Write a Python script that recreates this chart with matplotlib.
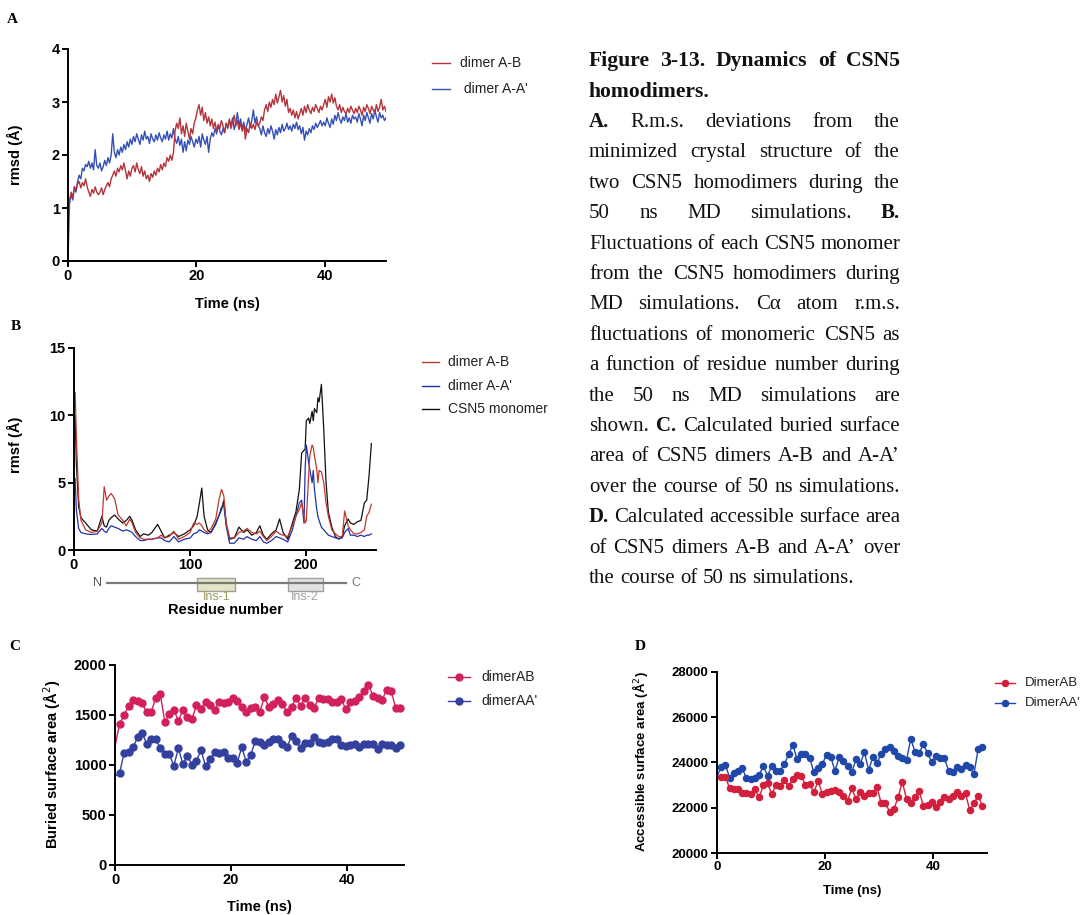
import numpy as np
import matplotlib
matplotlib.use('Agg')
import matplotlib.pyplot as plt
import matplotlib.transforms as mtransforms
from matplotlib.lines import Line2D
from matplotlib.patches import Rectangle

plt.rcParams['font.family'] = ['Liberation Sans', 'DejaVu Sans']

# ---- A: rmsd over time (ns), 0.25 ns sampling
rmsd_t = np.linspace(0, 49.5, 200)
rmsd_ab = [
    0.0, 1.15, 1.3, 1.2, 1.4, 1.35, 1.45, 1.5, 1.38, 1.48, 1.42, 1.55, 1.4, 1.3, 1.22, 1.35, 1.28, 1.4, 1.3, 1.25,
    1.3, 1.38, 1.25, 1.35, 1.42, 1.48, 1.4, 1.55, 1.62, 1.7, 1.6, 1.75, 1.68, 1.8, 1.72, 1.85, 1.7, 1.55, 1.7, 1.6,
    1.75, 1.8, 1.68, 1.85, 1.72, 1.65, 1.78, 1.6, 1.7, 1.55, 1.62, 1.5, 1.65, 1.58, 1.7, 1.62, 1.75, 1.68, 1.82, 1.72,
    1.85, 1.78, 1.95, 1.88, 2.0, 1.9, 2.05, 2.45, 2.6, 2.5, 2.7, 2.4, 2.55, 2.35, 2.6, 2.45, 2.3, 2.5, 2.4, 2.6,
    2.7, 2.85, 2.95, 2.75, 2.9, 2.65, 2.8, 2.6, 2.72, 2.55, 2.68, 2.5, 2.62, 2.45, 2.58, 2.5, 2.65, 2.55, 2.42, 2.6,
    2.52, 2.68, 2.5, 2.62, 2.75, 2.55, 2.65, 2.48, 2.6, 2.45, 2.58, 2.3, 2.5, 2.42, 2.6, 2.5, 2.58, 2.48, 2.62, 2.55,
    2.6, 2.72, 2.65, 2.85, 2.95, 2.82, 3.0, 2.9, 3.05, 2.95, 3.15, 2.98, 3.1, 3.22, 3.0, 3.12, 2.92, 3.05, 2.8, 2.88,
    2.75, 2.85, 2.7, 2.82, 2.68, 2.78, 2.88, 2.75, 2.92, 2.8, 2.95, 2.85, 2.78, 2.9, 2.82, 2.95, 2.88, 2.8, 2.92, 2.85,
    2.95, 3.05, 2.9, 3.1, 3.0, 3.15, 2.98, 3.08, 2.92, 2.85, 2.95, 2.8, 2.9, 2.82, 2.78, 2.88, 2.8, 2.92, 2.85, 2.78,
    2.88, 2.8, 2.92, 2.85, 2.75, 2.9, 2.82, 2.95, 2.88, 2.78, 2.92, 2.85, 2.8, 2.95, 2.82, 2.9, 3.05, 2.85, 2.92, 2.82,
]
rmsd_aa = [
    0.9, 1.1, 1.25, 1.15, 1.4, 1.3, 1.5, 1.62, 1.55, 1.75, 1.7, 1.82, 1.78, 1.88, 1.75, 1.85, 1.72, 2.1, 1.8, 1.75,
    1.85, 1.7, 1.78, 1.9, 1.8, 1.95, 1.85, 2.0, 2.4, 2.05, 1.95, 2.1, 2.0, 2.15, 2.05, 2.2, 2.1, 2.25, 2.15, 2.3,
    2.2, 2.35, 2.25, 2.4, 2.3, 2.2, 2.38, 2.28, 2.45, 2.3, 2.35, 2.22, 2.4, 2.3, 2.25, 2.38, 2.28, 2.42, 2.32, 2.25,
    2.38, 2.3, 2.45, 2.28, 2.4, 2.32, 2.5, 2.3, 2.22, 2.35, 2.18, 2.3, 2.05, 2.25, 2.08, 2.28, 2.2, 2.35, 2.25, 2.15,
    2.3, 2.22, 2.35, 2.15, 2.4, 2.28, 2.2, 2.35, 2.05, 2.3, 2.42, 2.35, 2.5, 2.4, 2.55, 2.45, 2.38, 2.5, 2.42, 2.6,
    2.5, 2.65, 2.55, 2.7, 2.48, 2.6, 2.8, 2.55, 2.68, 2.5, 2.62, 2.45, 2.58, 2.7, 2.52, 2.65, 2.85, 2.6, 2.72, 2.55,
    2.5, 2.38, 2.55, 2.42, 2.35, 2.5, 2.4, 2.55, 2.45, 2.3, 2.48, 2.38, 2.52, 2.42, 2.58, 2.45, 2.5, 2.6, 2.48, 2.55,
    2.45, 2.58, 2.5, 2.62, 2.48, 2.55, 2.4, 2.52, 2.28, 2.45, 2.38, 2.5, 2.42, 2.55, 2.48, 2.6, 2.52, 2.58, 2.65, 2.55,
    2.62, 2.55, 2.7, 2.6, 2.52, 2.68, 2.58, 2.75, 2.65, 2.8, 2.68, 2.6, 2.72, 2.65, 2.78, 2.62, 2.7, 2.6, 2.75, 2.68,
    2.72, 2.62, 2.78, 2.68, 2.55, 2.75, 2.65, 2.8, 2.7, 2.6, 2.78, 2.68, 2.85, 2.72, 2.62, 2.8, 2.7, 2.75, 2.65, 2.7,
]

# ---- B: rmsf per residue
rmsf_res = [1, 2, 4, 6, 10, 15, 20, 24, 26, 28,
            30, 32, 35, 38, 42, 45, 48, 50, 53, 57,
            60, 64, 67, 72, 75, 78, 82, 86, 90, 95,
            100, 103, 106, 108, 110, 112, 115, 118, 122, 125,
            127, 129, 131, 134, 138, 142, 146, 149, 153, 157,
            160, 163, 166, 170, 174, 177, 180, 184, 188, 191,
            194, 196, 198, 199, 200, 202, 203, 205, 206, 207,
            209, 210, 211, 213, 215, 217, 219, 222, 225, 228,
            231, 233, 236, 238, 241, 244, 247, 250, 252, 254,
            256]
rmsf_ab = [11.7, 8.5, 3.8, 2.2, 1.5, 1.3, 1.4, 2.0, 4.7, 3.7,
           4.0, 4.2, 3.8, 2.6, 2.2, 1.8, 2.3, 2.0, 1.3, 0.9,
           0.8, 0.8, 0.8, 0.9, 1.1, 0.9, 1.0, 1.4, 0.8, 1.0,
           1.3, 2.0, 1.9, 2.0, 1.8, 1.5, 1.3, 1.6, 2.3, 3.8,
           4.5, 4.0, 2.0, 0.9, 0.9, 1.3, 1.4, 1.6, 1.3, 1.2,
           1.4, 1.0, 0.7, 1.0, 1.4, 1.2, 1.1, 1.0, 1.8, 2.5,
           3.0, 3.5, 2.5, 2.0, 2.2, 5.5, 7.0, 7.8, 7.6, 7.0,
           6.0, 5.0, 5.9, 5.8, 5.0, 3.5, 2.5, 1.5, 1.2, 1.0,
           1.0, 2.9, 1.8, 1.5, 1.2, 1.2, 1.3, 1.5, 2.5, 2.8,
           3.4]
rmsf_aa = [5.3, 3.0, 1.6, 1.3, 1.2, 1.15, 1.2, 1.6, 1.4, 1.3,
           1.6, 1.8, 1.7, 1.6, 1.4, 1.5, 1.4, 1.3, 1.0, 0.7,
           0.7, 0.8, 0.8, 0.9, 0.9, 0.7, 0.6, 1.0, 0.6, 0.8,
           0.9, 1.2, 1.3, 1.5, 1.4, 1.3, 1.2, 1.3, 1.9, 2.6,
           3.2, 3.3, 1.8, 0.5, 0.5, 0.9, 0.8, 1.0, 0.8, 0.7,
           1.0, 0.6, 0.5, 0.7, 1.0, 0.9, 0.8, 0.6, 1.5, 2.5,
           3.5, 3.7, 2.0, 6.0, 7.8, 6.5, 6.0, 5.0, 5.9, 4.5,
           3.0, 2.5, 2.2, 1.7, 1.5, 1.3, 1.1, 1.0, 0.9, 0.85,
           0.9, 1.3, 1.6, 1.1, 1.1, 1.0, 1.1, 1.0, 1.1, 1.1,
           1.2]
rmsf_mono = [10.0, 6.5, 3.2, 2.4, 2.0, 1.5, 1.4, 2.5, 1.8, 1.7,
             2.2, 2.4, 2.6, 2.3, 2.0, 2.2, 2.5, 2.2, 1.5, 1.0,
             1.2, 1.1, 1.3, 1.9, 1.4, 0.9, 1.1, 1.3, 1.0, 1.2,
             1.5, 1.8, 2.5, 3.5, 4.6, 2.5, 1.5, 1.3, 2.0, 2.6,
             3.0, 3.7, 2.0, 0.8, 0.9, 1.7, 1.3, 1.5, 1.1, 1.3,
             1.8, 1.1, 0.8, 1.2, 1.5, 2.3, 1.3, 0.8, 2.0, 2.8,
             4.5, 7.2, 7.4, 7.5, 9.6, 9.8, 9.4, 10.3, 9.6, 10.5,
             10.2, 11.3, 11.0, 12.3, 9.0, 5.0, 2.8, 1.7, 1.0, 0.8,
             1.0, 1.8, 2.3, 2.0, 1.9, 2.1, 2.2, 3.5, 3.7, 5.5,
             7.9]
ins_regions = [("Ins-1", 106, 139), ("Ins-2", 184, 214)]

# ---- C / D: buried and accessible surface area
sa_t = np.arange(64) * 0.78
bsa_ab = [1190, 1407, 1500, 1590, 1650, 1643, 1617, 1527, 1527, 1673, 1710,
          1433, 1507, 1550, 1443, 1550, 1477, 1460, 1597, 1557, 1633,
          1600, 1550, 1633, 1617, 1630, 1667, 1640, 1583, 1533, 1573,
          1577, 1533, 1677, 1577, 1610, 1653, 1610, 1527, 1583, 1667,
          1593, 1673, 1600, 1573, 1667, 1660, 1657, 1633, 1633, 1657,
          1557, 1633, 1640, 1683, 1743, 1800, 1690, 1673, 1650, 1750,
          1740, 1573, 1573]
bsa_aa = [890, 917, 1117, 1127, 1177, 1277, 1323, 1210, 1257, 1260, 1167,
          1110, 1107, 993, 1167, 1010, 1093, 1000, 1043, 1150, 990,
          1060, 1130, 1123, 1130, 1070, 1070, 1023, 1177, 1033, 1100,
          1243, 1227, 1200, 1233, 1257, 1257, 1210, 1177, 1290, 1243,
          1173, 1217, 1217, 1277, 1227, 1217, 1233, 1257, 1260, 1200,
          1190, 1200, 1210, 1183, 1207, 1207, 1210, 1160, 1210, 1200,
          1200, 1173, 1200]
asa_ab = [23372, 23343, 23372, 22854, 22810, 22840, 22633, 22633, 22603, 22810, 22455,
          22988, 23076, 22603, 23002, 22973, 23224, 22958, 23268, 23446, 23416,
          23002, 23047, 22677, 23195, 22603, 22677, 22751, 22781, 22707, 22530,
          22292, 22854, 22366, 22707, 22530, 22662, 22662, 22899, 22189, 22189,
          21819, 21937, 22455, 23150, 22366, 22218, 22485, 22751, 22070, 22115,
          22233, 22041, 22263, 22485, 22366, 22530, 22677, 22530, 22633, 21893,
          22189, 22530, 22085]
asa_aa = [23372, 23816, 23890, 23328, 23520, 23638, 23742, 23298, 23268, 23298, 23446,
          23845, 23416, 23845, 23624, 23638, 23919, 24363, 24777, 24141, 24378,
          24378, 24215, 23564, 23742, 23934, 24333, 24260, 23638, 24230, 24067,
          23860, 23564, 24141, 23934, 24452, 23668, 24230, 23993, 24378, 24600,
          24674, 24526, 24289, 24186, 24111, 25043, 24481, 24407, 24822, 24407,
          24008, 24304, 24186, 24186, 23624, 23564, 23786, 23698, 23890, 23786,
          23490, 24600, 24674]

caption_title = ["Figure 3-13. Dynamics of CSN5", "homodimers."]
caption_body = [
    "*A. R.m.s. deviations from the",
    "minimized crystal structure of the",
    "two CSN5 homodimers during the",
    "50 ns MD simulations. *B.",
    "Fluctuations of each CSN5 monomer",
    "from the CSN5 homodimers during",
    "MD simulations. Cα atom r.m.s.",
    "fluctuations of monomeric CSN5 as",
    "a function of residue number during",
    "the 50 ns MD simulations are",
    "shown. *C. Calculated buried surface",
    "area of CSN5 dimers A-B and A-A’",
    "over the course of 50 ns simulations.",
    "*D. Calculated accessible surface area",
    "of CSN5 dimers A-B and A-A’ over",
    "the course of 50 ns simulations.",
]

W, H = 1081, 915
fig = plt.figure(figsize=(W / 100, H / 100), dpi=100)
renderer = fig.canvas.get_renderer()


def px_axes(l, r, t, b):
    return fig.add_axes([l / W, 1 - b / H, (r - l) / W, (b - t) / H])


def prism(ax, xt, yt, size=10.5):
    for s in ['top', 'right']:
        ax.spines[s].set_visible(False)
    for s in ['left', 'bottom']:
        ax.spines[s].set_linewidth(1.4)
    ax.set_xticks(xt)
    ax.set_yticks(yt)
    ax.tick_params(direction='out', length=4, width=1.4, labelsize=size, pad=2)
    plt.setp(ax.get_xticklabels() + ax.get_yticklabels(), fontweight='bold')


def fy(y):
    return 1 - y / H


def legend_line(x0, x1, y, color, label, tx, size, marker=False, ms=5):
    fig.add_artist(Line2D([x0 / W, x1 / W], [fy(y)] * 2, color=color, lw=1.0))
    if marker:
        fig.add_artist(Line2D([(x0 + x1) / 2 / W], [fy(y)], color=color,
                              marker='o', ms=ms, ls='none'))
    fig.text(tx / W, fy(y), label, fontsize=size, va='center', ha='left', color='#222222')


# panel A
axA = px_axes(68, 386, 49, 261)
axA.plot(rmsd_t, rmsd_aa, color='#3550b5', lw=1.0)
axA.plot(rmsd_t, rmsd_ab, color='#b3343c', lw=1.0)
axA.set_xlim(0, 49.5)
axA.set_ylim(0, 4)
prism(axA, [0, 20, 40], [0, 1, 2, 3, 4])
axA.set_xlabel('Time (ns)', fontsize=10.5, fontweight='bold', va='top')
axA.xaxis.set_label_coords(0.5, -0.17)
axA.set_ylabel('rmsd (Å)', fontsize=10.5, fontweight='bold')
axA.yaxis.set_label_coords(-0.14, 0.5)
legend_line(432, 450, 63, '#b3343c', 'dimer A-B', 460, 10)
legend_line(432, 450, 89, '#3550b5', ' dimer A-A\'', 460, 10)

# panel B
axB = px_axes(74, 376, 348, 550)
axB.plot(rmsf_res, rmsf_mono, color='#111111', lw=0.9)
axB.plot(rmsf_res, rmsf_aa, color='#2232a8', lw=0.9)
axB.plot(rmsf_res, rmsf_ab, color='#c0392b', lw=0.9)
axB.set_xlim(0, 260)
axB.set_ylim(0, 15)
prism(axB, [0, 100, 200], [0, 5, 10, 15])
axB.set_xlabel('Residue number', fontsize=10.5, fontweight='bold', va='top')
axB.xaxis.set_label_coords(0.5, -0.262)
axB.set_ylabel('rmsf (Å)', fontsize=10.5, fontweight='bold')
axB.yaxis.set_label_coords(-0.17, 0.52)
blend = mtransforms.blended_transform_factory(axB.transData, axB.transAxes)
axB.plot([28, 234], [-0.163, -0.163], transform=blend, clip_on=False, color='#7a7a7a', lw=1.6)
ins_face = ['#e4e4c4', '#e2e2e2']
ins_text = ['#9a9a5a', '#a0a0a0']
for k, (name, r0, r1) in enumerate(ins_regions):
    axB.add_patch(Rectangle((r0, -0.203), r1 - r0, 0.064, transform=blend, clip_on=False,
                            facecolor=ins_face[k], edgecolor='#a0a0a0', lw=1.0))
    axB.text((r0 + r1) / 2, -0.233, name, transform=blend, ha='center', va='center',
             fontsize=9, color=ins_text[k])
axB.text(20, -0.163, 'N', transform=blend, ha='center', va='center', fontsize=9, color='#555555')
axB.text(243, -0.163, 'C', transform=blend, ha='center', va='center', fontsize=9, color='#777777')
legend_line(422, 439, 362, '#c0392b', 'dimer A-B', 448, 10)
legend_line(422, 439, 386, '#2232a8', 'dimer A-A\'', 448, 10)
legend_line(422, 439, 409, '#111111', 'CSN5 monomer', 448, 10)

# panel C
axC = px_axes(115, 404, 665, 865)
axC.plot(sa_t, bsa_aa, color='#33409e', lw=1.0, marker='o', ms=5, markevery=slice(1, None))
axC.plot(sa_t, bsa_ab, color='#d2215a', lw=1.0, marker='o', ms=5, markevery=slice(1, None))
axC.set_xlim(0, 49.8)
axC.set_ylim(0, 2000)
prism(axC, [0, 20, 40], [0, 500, 1000, 1500, 2000])
axC.set_xlabel('Time (ns)', fontsize=10.5, fontweight='bold', va='top')
axC.xaxis.set_label_coords(0.5, -0.175)
axC.set_ylabel('Buried surface area (Å$^2$)', fontsize=10.5, fontweight='bold')
axC.yaxis.set_label_coords(-0.18, 0.505)
legend_line(448, 470, 677, '#d2215a', 'dimerAB', 481, 10, marker=True)
legend_line(448, 470, 701, '#33409e', 'dimerAA\'', 481, 10, marker=True)

# panel D
axD = px_axes(717, 987, 672, 853)
axD.plot(sa_t, asa_aa, color='#1f48aa', lw=1.0, marker='o', ms=4.4, markevery=slice(1, None))
axD.plot(sa_t, asa_ab, color='#d21f3c', lw=1.0, marker='o', ms=4.4, markevery=slice(1, None))
axD.set_xlim(0, 50)
axD.set_ylim(20000, 28000)
prism(axD, [0, 20, 40], [20000, 22000, 24000, 26000, 28000], size=9.5)
axD.set_xlabel('Time (ns)', fontsize=9.5, fontweight='bold', va='top')
axD.xaxis.set_label_coords(0.5, -0.177)
axD.set_ylabel('Accessible surface area (Å$^2$)', fontsize=9.5, fontweight='bold')
axD.yaxis.set_label_coords(-0.248, 0.503)
legend_line(995, 1015, 683, '#d21f3c', 'DimerAB', 1025, 9.5, marker=True, ms=4.4)
legend_line(995, 1015, 703, '#1f48aa', 'DimerAA\'', 1025, 9.5, marker=True, ms=4.4)

# panel letters
for letter, x, y in [('A', 7, 23), ('B', 11, 330), ('C', 9, 650), ('D', 635, 650)]:
    fig.text(x / W, fy(y), letter, fontsize=11, fontweight='bold',
             family='Liberation Serif', va='baseline')

# caption, justified between TX0 and TX1
TX0, TX1 = 589, 900


def width_of(s, bold, size):
    t = fig.text(0, 0, s, fontsize=size, family='Liberation Serif',
                 fontweight='bold' if bold else 'normal')
    w = t.get_window_extent(renderer).width
    t.remove()
    return w


def put_line(text, y, justify, all_bold=False, size=15):
    words = text.split(' ')
    arts, widths = [], []
    for w in words:
        bold = all_bold or w.startswith('*')
        t = fig.text(0, fy(y), w.lstrip('*'), fontsize=size, family='Liberation Serif',
                     fontweight='bold' if bold else 'normal', va='baseline', ha='left',
                     color='#111111')
        arts.append(t)
        widths.append(t.get_window_extent(renderer).width)
    if justify and len(words) > 1:
        gap = (TX1 - TX0 - sum(widths)) / (len(words) - 1)
    else:
        gap = width_of('x x', all_bold, size) - width_of('xx', all_bold, size)
    x = TX0
    for t, w in zip(arts, widths):
        t.set_x(x / W)
        x += w + gap


put_line(caption_title[0], 66, True, all_bold=True, size=15.6)
put_line(caption_title[1], 97, False, all_bold=True, size=15.6)
for k, line in enumerate(caption_body):
    put_line(line, 127 + 30.4 * k, k < len(caption_body) - 1)

fig.savefig('out.png', dpi=100)
